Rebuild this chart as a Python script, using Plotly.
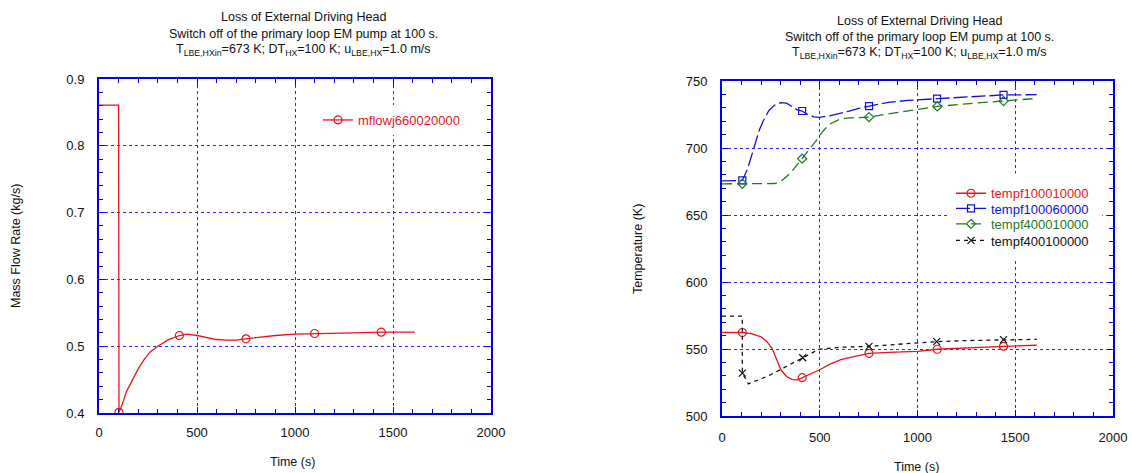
import plotly.graph_objects as go

W, H = 1132, 473
FONT = "Liberation Sans, Arial, sans-serif"

# ---------------- left panel: mass flow rate ----------------
flow_t = [0, 100, 102, 120, 140, 160, 180, 200, 230, 260, 300, 350, 410, 450, 500, 550,
          600, 650, 700, 750, 800, 850, 900, 1000, 1100, 1200, 1300, 1440, 1530, 1610]
flow_v = [0.861, 0.861, 0.401, 0.414, 0.432, 0.444, 0.455, 0.466, 0.480, 0.491, 0.500,
          0.509, 0.516, 0.518, 0.516, 0.513, 0.510, 0.509, 0.509, 0.511, 0.513, 0.515,
          0.516, 0.518, 0.519, 0.520, 0.520, 0.521, 0.521, 0.521]
flow_marks = [2, 12, 19, 24, 27]

# ---------------- right panel: temperatures ----------------
t1_t = [0, 104, 150, 200, 230, 256, 280, 302, 330, 360, 386, 410, 450, 500, 550, 608,
        680, 752, 850, 1000, 1101, 1250, 1440, 1610]
t1_v = [562.3, 562.3, 561.5, 559, 555.5, 550.5, 542, 534.3, 529.5, 527.2, 527, 528.6,
        531, 534.5, 538.5, 542, 544.5, 546.8, 547.5, 548.3, 549.8, 551, 552, 552.8]
t1_marks = [1, 11, 17, 20, 22]

t2_t = [0, 104, 130, 150, 170, 190, 210, 240, 270, 300, 330, 360, 385, 410, 440, 470,
        500, 550, 600, 650, 700, 752, 850, 950, 1100, 1250, 1440, 1610]
t2_v = [675.5, 675.8, 684, 694, 704, 713, 720, 728, 732, 733.8, 733.5, 731, 728.5, 727.6,
        724.8, 723.3, 722.9, 724.0, 725.6, 727.5, 729.5, 731.3, 734, 735.5, 736.8, 738,
        739.6, 739.8]
t2_marks = [1, 13, 21, 24, 26]

t3_t = [0, 104, 200, 270, 300, 330, 360, 385, 410, 435, 460, 485, 510, 535, 560, 585,
        610, 660, 752, 850, 1000, 1101, 1250, 1440, 1610]
t3_v = [673.3, 673.3, 673.3, 673.5, 675, 678.5, 683, 687.5, 692, 696.5, 701, 706, 711.5,
        715.5, 718.5, 720.5, 722, 722.5, 723, 725.5, 728.5, 731, 733, 735, 737]
t3_marks = [1, 8, 18, 21, 23]

t4_t = [0, 104, 104, 135, 238, 330, 413, 496, 608, 752, 900, 1098, 1250, 1440, 1610]
t4_v = [574.5, 574.5, 532, 524, 530, 537, 543.5, 549.8, 551.3, 552, 553.5, 555.5, 556.3,
        557, 557.2]
t4_marks = [2, 6, 9, 11, 13]

RED = "#e8141c"
BLUE = "#1010dd"
GREEN = "#1f7a1f"
BLACK = "#111111"
AX = "#0000ee"
GRID = "#2a2aee"


def px(x):
    return x / W


def py(y):
    return 1 - y / H


fig = go.Figure()


def add_series(x, y, marks, name, color, dash, symbol, size, xa, ya, legend):
    fig.add_trace(go.Scatter(
        x=x, y=y, mode="lines+markers", name=name,
        line=dict(color=color, width=1.3, dash=dash),
        marker=dict(symbol=symbol, size=size, color=color, line=dict(width=1.2, color=color)),
        selectedpoints=marks,
        unselected=dict(marker=dict(opacity=0)),
        xaxis=xa, yaxis=ya, legend=legend, hoverinfo="skip",
    ))


add_series(flow_t, flow_v, flow_marks, "mflowj660020000", RED, "solid", "circle-open", 8,
           "x", "y", "legend")
add_series(t1_t, t1_v, t1_marks, "tempf100010000", RED, "solid", "circle-open", 8,
           "x2", "y2", "legend2")
add_series(t2_t, t2_v, t2_marks, "tempf100060000", BLUE, "14px,4px", "square-open", 7,
           "x2", "y2", "legend3")
add_series(t3_t, t3_v, t3_marks, "tempf400010000", GREEN, "10px,5px", "diamond-open", 7,
           "x2", "y2", "legend4")
add_series(t4_t, t4_v, t4_marks, "tempf400100000", BLACK, "4px,4px", "x-thin-open", 7,
           "x2", "y2", "legend5")


def axis(domain, rng, dtick, minor_dtick, anchor, standoff):
    return dict(
        domain=domain, range=rng, dtick=dtick, anchor=anchor,
        showline=True, linecolor=AX, linewidth=2, mirror="ticks",
        ticks="inside", ticklen=6, tickcolor=AX, tickwidth=1,
        showgrid=True, gridcolor=GRID, griddash="dot", gridwidth=1,
        zeroline=False, ticklabelstandoff=standoff,
        tickfont=dict(family=FONT, size=13, color=BLACK),
        minor=dict(dtick=minor_dtick, ticks="inside", ticklen=4, tickcolor=AX,
                   tickwidth=1, showgrid=False),
    )


def leg(x, y, color, bg):
    return dict(x=px(x), y=py(y), xanchor="left", yanchor="middle",
                bgcolor=bg, borderwidth=0, itemwidth=30,
                font=dict(family=FONT, size=13, color=color))


CLEAR = "rgba(0,0,0,0)"
fig.update_layout(
    autosize=True, margin=dict(l=0, r=0, t=0, b=0, autoexpand=False),
    paper_bgcolor="white", plot_bgcolor="white", showlegend=True,
    xaxis=axis([px(99), px(491)], [0, 2000], 500, 100, "y", 6),
    yaxis=axis([py(413), py(79)], [0.4, 0.9], 0.1, 0.02, "x", 10),
    xaxis2=axis([px(722), px(1113)], [0, 2000], 500, 100, "y2", 8),
    yaxis2=axis([py(416), py(81)], [500, 750], 50, 10, "x2", 10),
    legend=leg(318, 120, RED, "white"),
    legend2=leg(951, 193.3, RED, CLEAR),
    legend3=leg(951, 208.5, BLUE, CLEAR),
    legend4=leg(951, 224, GREEN, CLEAR),
    legend5=leg(951, 240.5, BLACK, CLEAR),
)

# white backing behind the right-hand legend block (hides grid lines there)
fig.add_shape(type="rect", xref="x2", yref="y2", x0=1160, x1=1945, y0=618, y1=681,
              fillcolor="white", line=dict(width=0), layer="between")

title_lines = [
    "Loss of External Driving Head",
    "Switch off of the primary loop EM pump at 100 s.",
    "T<sub>LBE,HXin</sub>=673 K; DT<sub>HX</sub>=100 K; u<sub>LBE,HX</sub>=1.0 m/s",
]
ann = []
for cx, ys in ((303, (17, 34, 50)), (919, (21, 37, 53))):
    for text, yy in zip(title_lines, ys):
        ann.append(dict(text=text, x=px(cx), y=py(yy), xref="paper", yref="paper",
                        xanchor="center", yanchor="middle", showarrow=False,
                        font=dict(family=FONT, size=12.5, color=BLACK)))

ann.append(dict(text="Time (s)", x=px(292), y=py(462), xref="paper", yref="paper",
                xanchor="center", yanchor="middle", showarrow=False,
                font=dict(family=FONT, size=12.5, color=BLACK)))
ann.append(dict(text="Time (s)", x=px(916), y=py(467), xref="paper", yref="paper",
                xanchor="center", yanchor="middle", showarrow=False,
                font=dict(family=FONT, size=12.5, color=BLACK)))
ann.append(dict(text="Mass Flow Rate (kg/s)", x=px(16), y=py(246), xref="paper",
                yref="paper", xanchor="center", yanchor="middle", showarrow=False,
                textangle=-90, font=dict(family=FONT, size=12.5, color=BLACK)))
ann.append(dict(text="Temperature (K)", x=px(638), y=py(249), xref="paper",
                yref="paper", xanchor="center", yanchor="middle", showarrow=False,
                textangle=-90, font=dict(family=FONT, size=12.5, color=BLACK)))
fig.update_layout(annotations=ann)

fig.write_html(
    "out.html",
    config={"displayModeBar": False, "responsive": True},
    default_width="100vw", default_height="100vh",
    post_script=(
        "document.documentElement.style.margin='0';"
        "document.documentElement.style.overflow='hidden';"
        "document.body.style.margin='0';document.body.style.overflow='hidden';"
        "Plotly.Plots.resize(document.getElementById('{plot_id}'));"
    ),
)
